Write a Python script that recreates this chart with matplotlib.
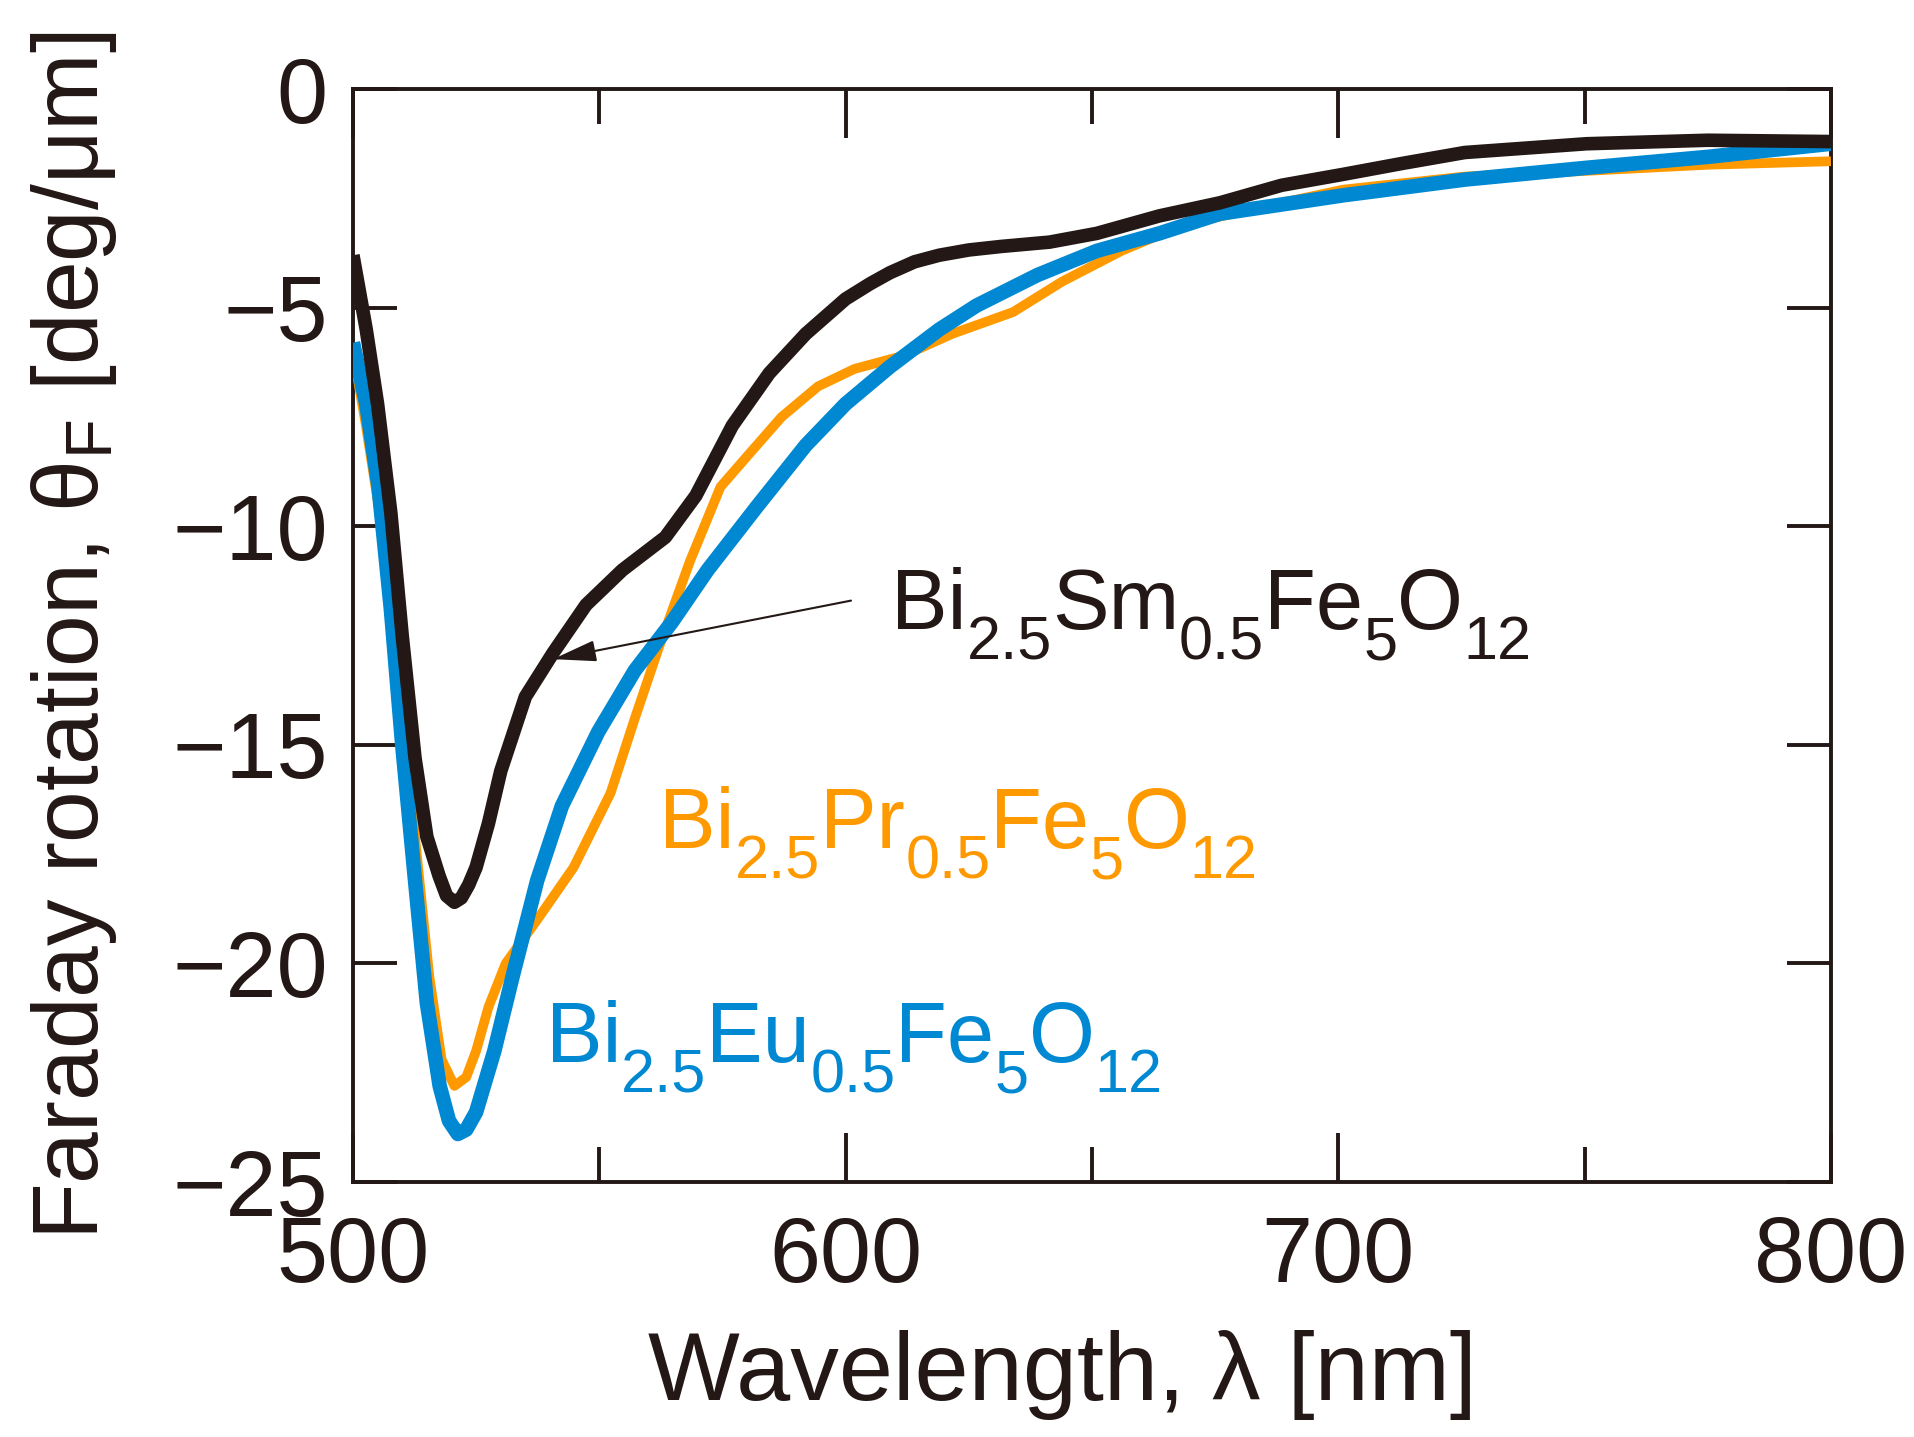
import numpy as np
import matplotlib
matplotlib.use("Agg")
from matplotlib import pyplot as plt
from matplotlib.ticker import MultipleLocator

plt.rcParams['font.family'] = ['Liberation Sans', 'DejaVu Sans']
plt.rcParams['mathtext.fontset'] = 'custom'
plt.rcParams['mathtext.rm'] = 'Liberation Sans'
plt.rcParams['mathtext.it'] = 'Liberation Sans'

# Bi2.5Sm0.5Fe5O12 (black)
wl_sm = [500, 502.7, 505, 507.7, 510, 512.6, 515, 517.5, 519, 520.6, 522, 523.5, 525, 527.5, 530, 535,
         540.6, 547.3, 554.7, 563.4, 569.6, 577, 584.5, 591.9, 600, 605, 609, 614, 619, 625, 631.5, 641.4,
         651, 663.7, 676, 688.5, 701, 713, 725.7, 750.4, 775, 800]
th_sm = [-3.8, -5.5, -7.2, -9.7, -12.5, -15.3, -17.1, -18.0, -18.45, -18.6, -18.5, -18.2, -17.8, -16.8, -15.6, -13.9,
         -12.9, -11.8, -11.0, -10.25, -9.3, -7.7, -6.5, -5.6, -4.8, -4.45, -4.2, -3.95, -3.8, -3.68, -3.6, -3.5,
         -3.3, -2.9, -2.6, -2.2, -1.95, -1.7, -1.45, -1.25, -1.17, -1.2]

# Bi2.5Pr0.5Fe5O12 (orange)
wl_pr = [500, 502.5, 505, 507.7, 510, 512.5, 515.5, 518, 520.6, 523, 525, 527.5, 531, 537.4,
         544.8, 552.3, 557.2, 562, 568.4, 574.6, 580, 587, 594.4, 601.8, 611.7, 621.6, 634,
         644, 656, 668.7, 688.5, 701, 725.7, 750.4, 775, 800]
th_pr = [-6.0, -7.6, -9.4, -11.6, -14.2, -17.0, -20.3, -22.2, -22.8, -22.6, -22.0, -21.0, -20.0, -19.0,
         -17.8, -16.1, -14.4, -12.8, -10.8, -9.1, -8.4, -7.5, -6.8, -6.4, -6.1, -5.6, -5.1,
         -4.4, -3.7, -3.1, -2.6, -2.3, -2.0, -1.87, -1.73, -1.65]

# Bi2.5Eu0.5Fe5O12 (blue)
wl_eu = [500, 502.7, 505.2, 507.7, 510, 512.6, 515, 517.6, 519.5, 521.3, 523, 525, 528.7, 532.4,
         537.4, 542.4, 549.8, 557.2, 564.7, 572, 582, 591.9, 600, 609, 619, 626.6, 639,
         651, 663.7, 676, 701, 725.7, 750.4, 775, 800]
th_eu = [-5.8, -7.2, -9.1, -11.9, -15.0, -18.1, -20.9, -22.8, -23.6, -23.9, -23.8, -23.4, -22.0, -20.3,
         -18.1, -16.4, -14.7, -13.3, -12.2, -11.0, -9.55, -8.15, -7.2, -6.35, -5.5, -4.95, -4.25,
         -3.7, -3.3, -2.85, -2.43, -2.07, -1.8, -1.55, -1.25]

labels = [
    (609.2, -12.35, [('Bi', 0), ('2.5', 1), ('Sm', 0), ('0.5', 1), ('Fe', 0), ('5', 1), ('O', 0), ('12', 1)]),
    (562.2, -17.37, [('Bi', 0), ('2.5', 1), ('Pr', 0), ('0.5', 1), ('Fe', 0), ('5', 1), ('O', 0), ('12', 1)]),
    (539.1, -22.26, [('Bi', 0), ('2.5', 1), ('Eu', 0), ('0.5', 1), ('Fe', 0), ('5', 1), ('O', 0), ('12', 1)]),
]

black = '#231815'
orange = '#FF9900'
blue = '#0088D2'

fig = plt.figure(figsize=(19.14, 14.37), dpi=100)
ax = fig.add_axes([0.1844, 0.1774, 0.7722, 0.7606])

ax.plot(wl_pr, th_pr, color=orange, lw=7, solid_joinstyle='round', solid_capstyle='butt', zorder=3)
ax.plot(wl_eu, th_eu, color=blue, lw=10.5, solid_joinstyle='round', solid_capstyle='butt', zorder=4)
ax.plot(wl_sm, th_sm, color=black, lw=9.8, solid_joinstyle='round', solid_capstyle='butt', zorder=5)

ax.set_xlim(500, 800)
ax.set_ylim(-25, 0)
ax.xaxis.set_major_locator(MultipleLocator(100))
ax.xaxis.set_minor_locator(MultipleLocator(50))
ax.yaxis.set_major_locator(MultipleLocator(5))

for s in ax.spines.values():
    s.set_linewidth(2.8)
    s.set_color(black)
ax.tick_params(which='both', direction='in', top=True, right=True, width=2.8, color=black,
               labelsize=66, labelcolor=black)
ax.tick_params(axis='x', which='major', length=35, pad=24)
ax.tick_params(axis='x', which='minor', length=25)
ax.tick_params(axis='y', which='major', length=32, pad=18)

ax.set_xlabel('Wavelength, λ [nm]', fontsize=70, color=black)
ax.set_ylabel('Faraday rotation, $\\mathregular{θ_F}$ [deg/μm]', fontsize=67, color=black)
ax.xaxis.set_label_coords(0.48, -0.135)
ax.yaxis.set_label_coords(-0.158, 0.5)


def formula(x, y, parts, color, size=61, sub_size=44, drop=18):
    first = ax.text(x, y, parts[0][0], fontsize=size, color=color, ha='left', va='baseline', zorder=7)
    prev = first
    for txt, sub in parts[1:]:
        prev = ax.annotate(txt, xy=(1, 0), xycoords=(prev, first),
                           xytext=(0, -drop if sub else 0), textcoords='offset points',
                           fontsize=sub_size if sub else size, color=color,
                           ha='left', va='bottom', zorder=7)


for (x, y, parts), c in zip(labels, [black, orange, blue]):
    formula(x, y, parts, c)

ax.annotate('', xy=(540.6, -13.04), xytext=(601.1, -11.7),
            arrowprops=dict(arrowstyle='-|>,head_length=0.9,head_width=0.22', lw=1.5,
                            color=black, mutation_scale=30, shrinkA=0, shrinkB=0), zorder=6)

fig.savefig('out.png', dpi=100)
